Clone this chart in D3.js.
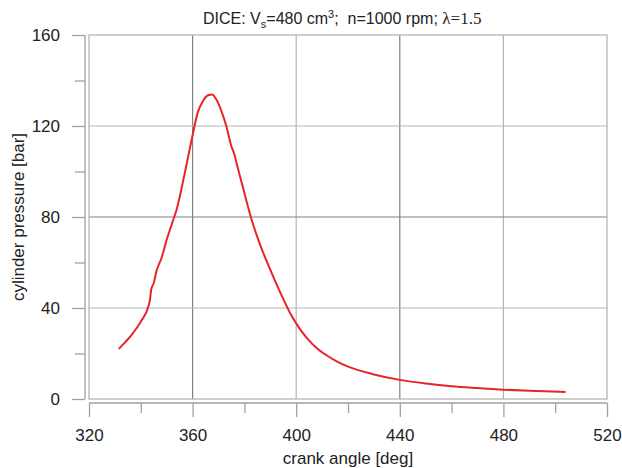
<!DOCTYPE html>
<html><head><meta charset="utf-8">
<script src="https://cdn.jsdelivr.net/npm/d3@7"></script>
<style>body{margin:0;background:#fff}svg{display:block}text{font-family:"Liberation Sans",Arial,sans-serif;fill:#222}</style>
</head><body>
<svg id="c" width="622" height="468"></svg>
<script>
const angles = [331.5,334,337,340,343,343.6,344,345,346,348,350,352,354,356,358,360,362,364,366,367.5,369,371,373,375,376,377,380,383,386,389,392,395,398,401,404,408,412,416,420,430,440,450,460,470,480,490,504];
const pressures = [22,25,29,34,41,44,48,51,56,62,70,77,84,94,105,116,126,131,133.5,133.8,132,127,120,111,108,103.5,90.5,78,68,59.5,51.5,44,37,31.5,27,22.3,19,16.3,14.2,10.8,8.4,6.8,5.6,4.8,4.1,3.6,3.1];
const xTicks = [320,360,400,440,480,520];
const xMinor = [340,380,420,460,500];
const yTicks = [0,40,80,120,160];
const yMinor = [20,60,100,140];

const svg = d3.select("#c");
const L=89,R=607,T=35,B=399;
const x = d3.scaleLinear().domain([320,520]).range([L,R]);
const y = d3.scaleLinear().domain([0,160]).range([B,T]);

// grid
const dark = v => v===360||v===440;
svg.selectAll(".gx").data(xTicks.slice(1,-1)).enter().append("line")
  .attr("x1",d=>x(d)).attr("x2",d=>x(d)).attr("y1",T).attr("y2",B)
  .attr("stroke",d=>dark(d)?"#808080":"#b5b5b5").attr("stroke-width",1.2);
svg.selectAll(".gy").data(yTicks.slice(1,-1)).enter().append("line")
  .attr("x1",L).attr("x2",R).attr("y1",d=>y(d)).attr("y2",d=>y(d))
  .attr("stroke",d=>d===80?"#808080":"#b5b5b5").attr("stroke-width",1.2);
// frame
svg.append("rect").attr("x",L).attr("y",T).attr("width",R-L).attr("height",B-T)
  .attr("fill","none").attr("stroke","#b0b0b0").attr("stroke-width",1.2);

// axes
const ya = svg.append("g").attr("transform","translate(85,0)")
  .call(d3.axisLeft(y).tickValues(yTicks).tickSize(13).tickPadding(12).tickFormat(d3.format("d")));
const yam = svg.append("g").attr("transform","translate(85,0)")
  .call(d3.axisLeft(y).tickValues(yMinor).tickSize(10).tickFormat(""));
const xa = svg.append("g").attr("transform","translate(0,403)")
  .call(d3.axisBottom(x).tickValues(xTicks).tickSize(14).tickPadding(12).tickFormat(d3.format("d")));
const xam = svg.append("g").attr("transform","translate(0,403)")
  .call(d3.axisBottom(x).tickValues(xMinor).tickSize(10).tickFormat(""));
[ya,yam,xa,xam].forEach(g=>{
  g.selectAll("path").attr("stroke","#a0a0a0").attr("stroke-width",1.3);
  g.selectAll("line").attr("stroke","#a0a0a0").attr("stroke-width",1.3);
  g.selectAll("text").attr("font-size",17).attr("fill","#222").attr("font-family","Liberation Sans, Arial, sans-serif");
});
ya.select(".domain").attr("d",`M0,${T}V${B}`);
yam.select(".domain").remove();
xa.select(".domain").attr("d",`M${L},0H${R}`);
xam.select(".domain").remove();

// curve
const pts = angles.map((a,i)=>[a,pressures[i]]);
svg.append("path").datum(pts)
  .attr("d",d3.line().x(d=>x(d[0])).y(d=>y(d[1])).curve(d3.curveMonotoneX))
  .attr("fill","none").attr("stroke","#e8232b").attr("stroke-width",2);

// labels
svg.append("text").attr("x",348).attr("y",464).attr("text-anchor","middle").attr("font-size",17).text("crank angle [deg]");
svg.append("text").attr("transform","translate(24,217) rotate(-90)").attr("text-anchor","middle").attr("font-size",17).text("cylinder pressure [bar]");

const t = svg.append("text").attr("x",203).attr("y",24).attr("font-size",16).attr("xml:space","preserve");
t.append("tspan").text("DICE: V");
t.append("tspan").attr("font-size",11).attr("dy",4).text("s");
t.append("tspan").attr("dy",-4).text("=480 cm");
t.append("tspan").attr("font-size",11).attr("dy",-6).text("3");
t.append("tspan").attr("dy",6).text(";  n=1000 rpm; ");
t.append("tspan").attr("font-family","Liberation Serif, Times New Roman, serif").attr("font-size",17).text("λ=1.5");
</script>
</body></html>
